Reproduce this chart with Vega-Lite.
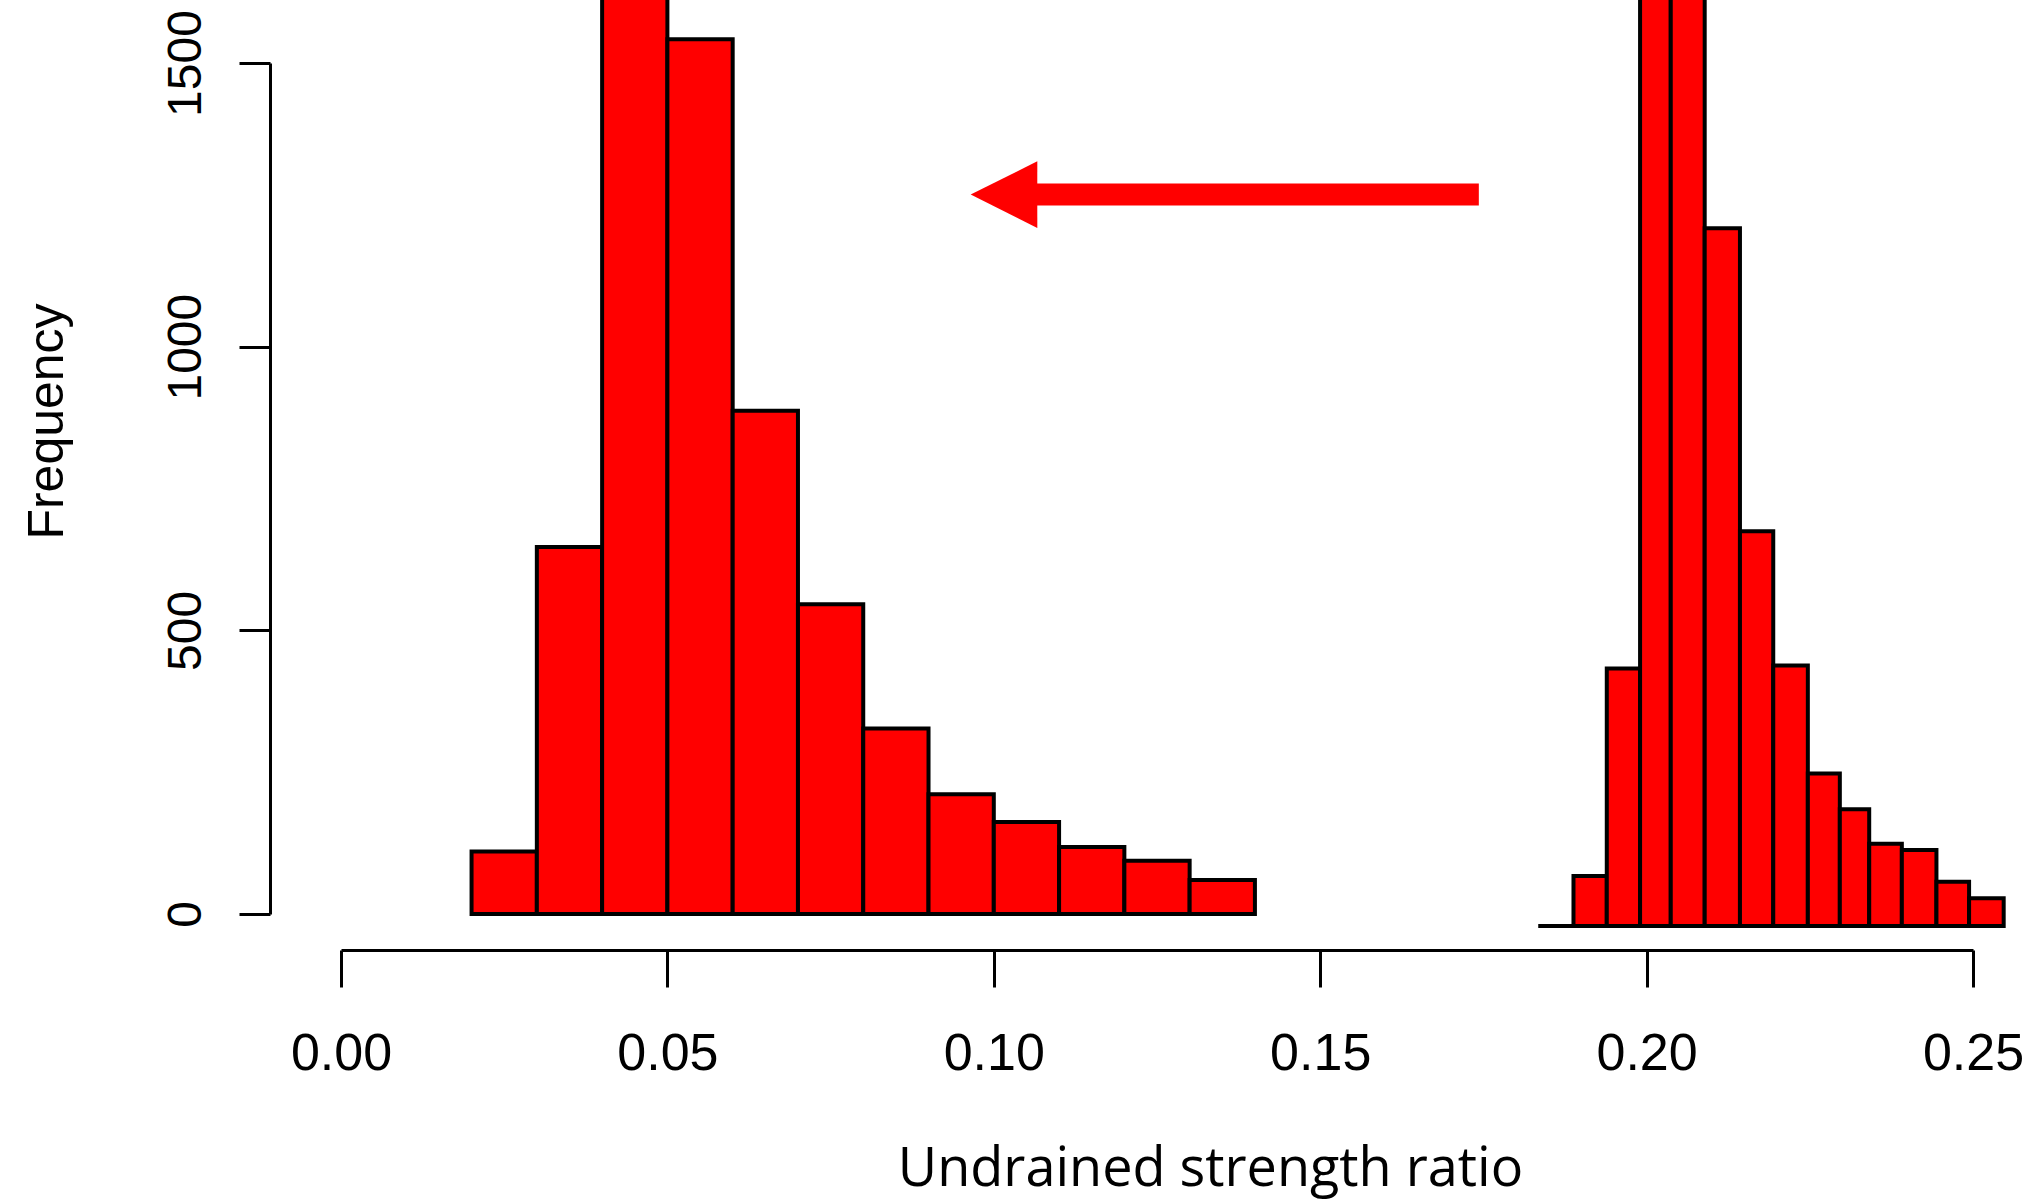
{
  "$schema": "https://vega.github.io/schema/vega-lite/v6.json",
  "autosize": {"type": "none"},
  "width": 1632,
  "height": 851,
  "padding": {"left": 341, "top": 63, "right": 65, "bottom": 287},
  "background": "white",
  "config": {"view": {"stroke": null}},
  "datasets": {
    "left": [
      {"start": 0.02, "end": 0.03, "count": 110},
      {"start": 0.03, "end": 0.04, "count": 647},
      {"start": 0.04, "end": 0.05, "count": 1800},
      {"start": 0.05, "end": 0.06, "count": 1542},
      {"start": 0.06, "end": 0.07, "count": 887},
      {"start": 0.07, "end": 0.08, "count": 546},
      {"start": 0.08, "end": 0.09, "count": 327},
      {"start": 0.09, "end": 0.10, "count": 211},
      {"start": 0.10, "end": 0.11, "count": 162},
      {"start": 0.11, "end": 0.12, "count": 118},
      {"start": 0.12, "end": 0.13, "count": 94},
      {"start": 0.13, "end": 0.14, "count": 60}
    ],
    "right": [
      {"start": 0.1834, "end": 0.1888, "count": 0},
      {"start": 0.1888, "end": 0.1939, "count": 88},
      {"start": 0.1939, "end": 0.1990, "count": 454},
      {"start": 0.1990, "end": 0.2037, "count": 1800},
      {"start": 0.2037, "end": 0.2089, "count": 1700},
      {"start": 0.2089, "end": 0.2143, "count": 1230},
      {"start": 0.2143, "end": 0.2194, "count": 696},
      {"start": 0.2194, "end": 0.2247, "count": 459},
      {"start": 0.2247, "end": 0.2296, "count": 269},
      {"start": 0.2296, "end": 0.2341, "count": 206},
      {"start": 0.2341, "end": 0.2391, "count": 145},
      {"start": 0.2391, "end": 0.2444, "count": 134},
      {"start": 0.2444, "end": 0.2494, "count": 78},
      {"start": 0.2494, "end": 0.2547, "count": 49}
    ],
    "shaft": [{"head": 0.1035, "tail": 0.1743, "level": 1268}],
    "head": [{"tip": 0.10156, "level": 1268}]
  },
  "layer": [
    {
      "data": {"name": "left"},
      "mark": {"type": "rect", "fill": "#ff0000", "stroke": "black", "strokeWidth": 4},
      "encoding": {
        "x": {
          "field": "start", "type": "quantitative",
          "scale": {"domain": [0, 0.25], "nice": false, "zero": false},
          "axis": {
            "values": [0, 0.05, 0.1, 0.15, 0.2, 0.25],
            "format": ".2f",
            "grid": false,
            "offset": 36,
            "domainColor": "black", "domainWidth": 3,
            "tickColor": "black", "tickWidth": 3, "tickSize": 37,
            "labelFont": "Liberation Sans", "labelFontSize": 52, "labelColor": "black",
            "labelPadding": 82, "labelBaseline": "alphabetic", "labelFlush": false, "labelOverlap": false, "labelBound": false,
            "title": "Undrained strength ratio",
            "titleFont": "Open Sans", "titleFontSize": 54, "titleFontWeight": "normal", "titleColor": "black",
            "titleX": 869, "titleY": 235, "titleAlign": "center", "titleBaseline": "alphabetic"
          }
        },
        "x2": {"field": "end"},
        "y": {
          "field": "count", "type": "quantitative",
          "scale": {"domain": [0, 1500], "nice": false, "zero": false},
          "axis": {
            "values": [0, 500, 1000, 1500],
            "format": "d",
            "grid": false,
            "offset": 71,
            "domainColor": "black", "domainWidth": 3,
            "tickColor": "black", "tickWidth": 3, "tickSize": 31,
            "labelFont": "Liberation Sans", "labelFontSize": 48, "labelColor": "black",
            "labelAngle": 270, "labelAlign": "center", "labelBaseline": "alphabetic",
            "labelPadding": 39, "labelFlush": false, "labelOverlap": false, "labelBound": false,
            "title": "Frequency",
            "titleFont": "Liberation Sans", "titleFontSize": 50, "titleFontWeight": "normal", "titleColor": "black",
            "titleAngle": 270, "titleX": -208, "titleY": 358, "titleAlign": "center", "titleBaseline": "alphabetic"
          }
        },
        "y2": {"datum": 0}
      }
    },
    {
      "data": {"name": "right"},
      "mark": {"type": "rect", "fill": "#ff0000", "stroke": "black", "strokeWidth": 4},
      "encoding": {
        "x": {"field": "start", "type": "quantitative"},
        "x2": {"field": "end"},
        "y": {
          "field": "count", "type": "quantitative",
          "scale": {"domain": [21.15, 1521.15], "nice": false, "zero": false},
          "axis": null
        },
        "y2": {"datum": 0}
      }
    },
    {
      "data": {"name": "shaft"},
      "mark": {"type": "rule", "color": "#ff0000", "strokeWidth": 22, "strokeCap": "butt"},
      "encoding": {
        "x": {"field": "head", "type": "quantitative"},
        "x2": {"field": "tail"},
        "y": {
          "field": "level", "type": "quantitative",
          "scale": {"domain": [0, 1500], "nice": false, "zero": false},
          "axis": null
        }
      }
    },
    {
      "data": {"name": "head"},
      "mark": {"type": "point", "shape": "M-1,0L1,-1L1,1Z", "filled": true, "fill": "#ff0000", "strokeWidth": 0, "opacity": 1, "size": 4436},
      "encoding": {
        "x": {"field": "tip", "type": "quantitative"},
        "y": {
          "field": "level", "type": "quantitative",
          "scale": {"domain": [0, 1500], "nice": false, "zero": false},
          "axis": null
        }
      }
    }
  ],
  "resolve": {"scale": {"y": "independent"}}
}
